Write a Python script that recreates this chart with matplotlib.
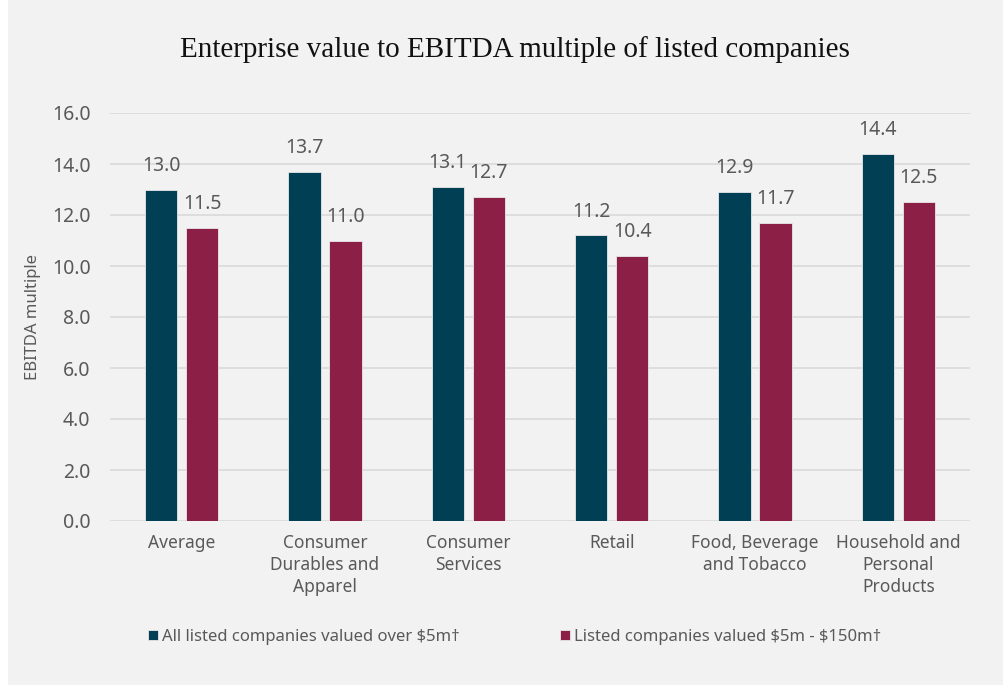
import matplotlib.pyplot as plt
import matplotlib.patches as mpatches
import numpy as np

categories = ["Average", "Consumer\nDurables and\nApparel", "Consumer\nServices", "Retail",
              "Food, Beverage\nand Tobacco", "Household and\nPersonal\nProducts"]
all_listed = [13.0, 13.7, 13.1, 11.2, 12.9, 14.4]
small_listed = [11.5, 11.0, 12.7, 10.4, 11.7, 12.5]
series_names = ["All listed companies valued over \\$5m\u2020",
                "Listed companies valued \\$5m - \\$150m\u2020"]
yticks = np.arange(0, 16.1, 2)

teal = "#003f54"
maroon = "#8b1f45"
txt = "#595959"
bg = "#f2f2f2"
sans = ["Noto Sans", "DejaVu Sans"]

fig = plt.figure(figsize=(10.04, 6.85), dpi=100, facecolor="white")
fig.patches.append(mpatches.Rectangle((8 / 1004, 0), 1, 1, transform=fig.transFigure,
                                      facecolor=bg, edgecolor="none", zorder=-10))
ax = fig.add_axes([110 / 1004, 164 / 685, 860 / 1004, 408 / 685])
ax.set_facecolor(bg)

x = np.arange(len(categories))
w = 0.225
off = 0.143
b1 = ax.bar(x - off, all_listed, w, color=teal, edgecolor="#e8e8e8", linewidth=0.6,
            label=series_names[0], zorder=3)
b2 = ax.bar(x + off, small_listed, w, color=maroon, edgecolor="#e8e8e8", linewidth=0.6,
            label=series_names[1], zorder=3)
for bars in (b1, b2):
    ax.bar_label(bars, fmt="%.1f", padding=10, fontsize=14, color=txt, family=sans)

ax.set_xlim(-0.5, len(categories) - 0.5)
ax.set_ylim(0, 16)
ax.set_yticks(yticks)
ax.set_yticklabels([f"{v:.1f}" for v in yticks], fontsize=14, color=txt, family=sans)
ax.set_xticks(x)
ax.set_xticklabels(categories, fontsize=12.5, color=txt, family=sans, linespacing=1.3)
ax.tick_params(axis="both", length=0)
ax.tick_params(axis="x", pad=9)
ax.tick_params(axis="y", pad=14)
ax.grid(axis="y", color="#d9d9d9", linewidth=1.2, zorder=0)
for s in ax.spines.values():
    s.set_visible(False)
ax.set_ylabel("EBITDA multiple", fontsize=12, color=txt, family=sans, labelpad=8)

fig.text(515 / 1004, 1 - 50 / 685, "Enterprise value to EBITDA multiple of listed companies",
         ha="center", va="center", fontsize=21, family=["Liberation Serif", "DejaVu Serif"],
         color="#111111")

leg = fig.legend(loc="center", bbox_to_anchor=(515 / 1004, 1 - 637 / 685), ncol=2,
                 frameon=False, handlelength=0.6, handleheight=0.6,
                 handletextpad=0.25, columnspacing=6.0, prop={"family": sans, "size": 12})
for t in leg.get_texts():
    t.set_color(txt)

fig.savefig("out.png", dpi=100, facecolor=fig.get_facecolor())
